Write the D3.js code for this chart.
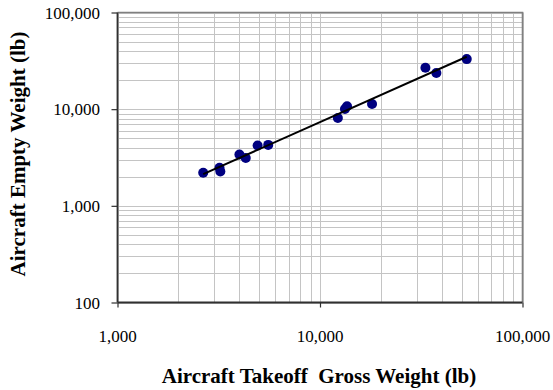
<!DOCTYPE html>
<html><head><meta charset="utf-8">
<script src="https://cdn.jsdelivr.net/npm/d3@7"></script>
<style>body{margin:0;background:#fff}svg{display:block}</style>
</head><body>
<script>
const grossWeight = [2650, 3190, 3220, 4000, 4300, 4920, 5550, 12250, 13280, 13600, 18070, 33160, 37550, 53040];
const emptyWeight = [2200, 2470, 2270, 3400, 3130, 4200, 4270, 8100, 10040, 10700, 11320, 26840, 23640, 32960];
const xTicks = [1000, 10000, 100000];
const yTicks = [100, 1000, 10000, 100000];
const xTitle = "Aircraft Takeoff  Gross Weight (lb)";
const yTitle = "Aircraft Empty Weight (lb)";

const W = 553, H = 390;
const m = {left: 117.5, right: 522.5, top: 12.5, bottom: 302.5};
const FONT = "'Liberation Serif', 'Times New Roman', serif";
const svg = d3.select("body").append("svg").attr("width", W).attr("height", H);
const x = d3.scaleLog().domain([1000, 100000]).range([m.left, m.right]);
const y = d3.scaleLog().domain([100, 100000]).range([m.bottom, m.top]);
const fmt = d3.format(",");

// minor + major gridlines
const xGrid = [], yGrid = [];
for (let d = 1000; d < 100000; d *= 10) for (let k = 1; k <= 10; k++) xGrid.push(d * k);
for (let d = 100; d < 100000; d *= 10) for (let k = 1; k <= 10; k++) yGrid.push(d * k);
const g = svg.append("g");
g.selectAll(".gx").data(xGrid).join("line")
  .attr("x1", d => Math.round(x(d)) + 0.5).attr("x2", d => Math.round(x(d)) + 0.5)
  .attr("y1", m.top).attr("y2", m.bottom).attr("stroke", "#c4c4c4").attr("stroke-width", 1);
g.selectAll(".gy").data(yGrid).join("line")
  .attr("y1", d => Math.round(y(d)) + 0.5).attr("y2", d => Math.round(y(d)) + 0.5)
  .attr("x1", m.left).attr("x2", m.right).attr("stroke", "#c4c4c4").attr("stroke-width", 1);

// top/right border
svg.append("path").attr("d", `M${m.left},${m.top}H${m.right}V${m.bottom}`)
  .attr("fill", "none").attr("stroke", "#808080").attr("stroke-width", 1.6);

// axes
const xAxis = d3.axisBottom(x).tickValues(xTicks).tickSize(5).tickFormat("");
const yAxis = d3.axisLeft(y).tickValues(yTicks).tickSize(6).tickFormat("");
const gxA = svg.append("g").attr("transform", `translate(0,${m.bottom})`).call(xAxis);
const gyA = svg.append("g").attr("transform", `translate(${m.left},0)`).call(yAxis);
[gxA, gyA].forEach(a => {
  a.select(".domain").attr("stroke", "#303030").attr("stroke-width", 1.8);
  a.selectAll(".tick line").attr("stroke", "#303030").attr("stroke-width", 1.2);
});
gxA.select(".domain").attr("d", `M${m.left},0H${m.right}`);
gyA.select(".domain").attr("d", `M0,${m.top}V${m.bottom}`);

// tick labels
svg.selectAll(".xl").data(xTicks).join("text")
  .attr("x", d => x(d)).attr("y", 341.5).attr("text-anchor", "middle")
  .attr("font-family", FONT).attr("font-size", 17).attr("fill", "#000").text(fmt);
svg.selectAll(".yl").data(yTicks).join("text")
  .attr("x", 100).attr("y", d => y(d) + 6).attr("text-anchor", "end")
  .attr("font-family", FONT).attr("font-size", 17).attr("fill", "#000").text(fmt);

// titles
svg.append("text").attr("x", 319).attr("y", 383).attr("text-anchor", "middle")
  .attr("font-family", FONT).attr("font-weight", "bold").attr("font-size", 21)
  .style("white-space", "pre").text(xTitle);
svg.append("text").attr("transform", `translate(25,154) rotate(-90)`)
  .attr("text-anchor", "middle")
  .attr("font-family", FONT).attr("font-weight", "bold").attr("font-size", 21).text(yTitle);

// power-law trendline (least squares in log-log)
const lx = grossWeight.map(Math.log10), ly = emptyWeight.map(Math.log10);
const mx = d3.mean(lx), my = d3.mean(ly);
const b = d3.sum(lx.map((v, i) => (v - mx) * (ly[i] - my))) / d3.sum(lx.map(v => (v - mx) ** 2));
const a = my - b * mx;
const trend = d3.extent(grossWeight).map(v => [v, Math.pow(10, a + b * Math.log10(v))]);

// points
svg.selectAll(".pt").data(grossWeight).join("circle")
  .attr("cx", d => x(d)).attr("cy", (d, i) => y(emptyWeight[i])).attr("r", 5)
  .attr("fill", "#000080");

svg.append("path").datum(trend)
  .attr("d", d3.line().x(d => x(d[0])).y(d => y(d[1])))
  .attr("stroke", "#000").attr("stroke-width", 2).attr("fill", "none");
</script>
</body></html>
